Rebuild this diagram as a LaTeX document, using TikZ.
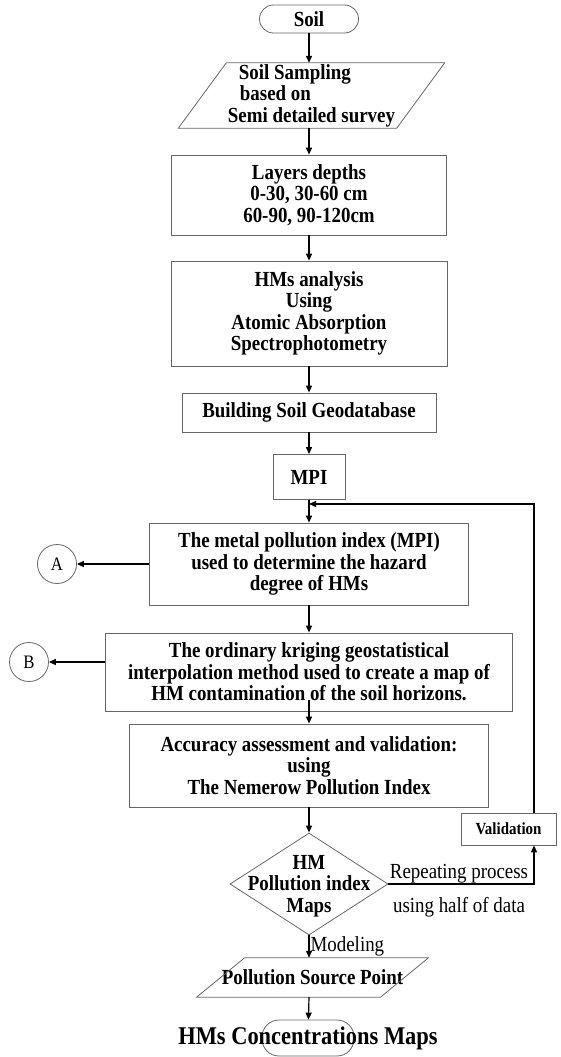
\documentclass[tikz,border=0pt]{standalone}
\usepackage{fontspec}
\setmainfont{Liberation Serif}[FakeStretch=0.88]
\usetikzlibrary{positioning,arrows.meta,shapes.geometric}
\definecolor{edgegray}{gray}{0.4}

\tikzset{
  txt/.style={align=center, inner sep=1pt, font=\fontsize{21.5}{21.5}\selectfont\bfseries},
  box/.style={txt, draw=edgegray, line width=0.8pt},
  term/.style={box, rounded corners=14pt},
  edge/.style={draw=edgegray, line width=0.8pt},
  diam/.style={edge, diamond, inner sep=0pt},
  circ/.style={edge, circle, minimum size=39pt, inner sep=0pt,
    font=\fontsize{19}{19}\selectfont},
  lbl/.style={inner sep=1pt, font=\fontsize{21.5}{21.5}\selectfont},
  arr/.style={-{Triangle[length=7pt,width=6pt]}, line width=1.2pt}
}

\begin{document}
\begin{tikzpicture}[x=1pt,y=-1pt]
\useasboundingbox (0,0) rectangle (561,1057);

% Main column
\node[term, minimum width=99pt, minimum height=28pt] (soil) at (309,19) {Soil};
\node[txt, align=left, minimum width=218pt, minimum height=65pt] (sampling) at (311.5,95.5) {\hspace*{11pt}Soil Sampling\\\hspace*{12pt}based on\\Semi detailed survey};
\draw[edge] ([xshift=24pt]sampling.north west) -- ([xshift=24pt]sampling.north east)
  -- ([xshift=-24pt]sampling.south east) -- ([xshift=-24pt]sampling.south west) -- cycle;
\node[box, minimum width=275pt, minimum height=80pt] (layers) at (309,195) {Layers depths\\0-30, 30-60 cm\\60-90, 90-120cm};
\node[box, minimum width=276pt, minimum height=105pt] (hms) at (309,313.5) {HMs analysis\\Using\\Atomic Absorption\\Spectrophotometry};
\node[box, minimum width=254pt, minimum height=39pt] (geodb) at (309,412.5) {Building Soil Geodatabase};
\node[box, minimum width=72pt, minimum height=45pt] (mpi) at (309,477) {MPI};
\node[box, minimum width=319pt, minimum height=82pt] (mpiuse) at (309,564) {The metal pollution index (MPI)\\used to determine the hazard\\degree of HMs};
\node[box, minimum width=407pt, minimum height=78pt] (kriging) at (309,672) {The ordinary kriging geostatistical\\interpolation method used to create a map of\\HM contamination of the soil horizons.};
\node[box, minimum width=359pt, minimum height=83pt] (accuracy) at (309,765.5) {Accuracy assessment and validation:\\using\\The Nemerow Pollution Index};
\node[diam, minimum width=158pt, minimum height=102pt] (hmmap) at (309,884) {};
\node[txt] (hmmaptxt) at (309,886) {HM\\Pollution index\\Maps};
\node[txt, minimum width=177pt, minimum height=39pt] (source) at (312.5,977.5) {Pollution Source Point};
\draw[edge] ([xshift=24pt]source.north west) -- ([xshift=24pt]source.north east)
  -- ([xshift=-24pt]source.south east) -- ([xshift=-24pt]source.south west) -- cycle;
\node[edge, rounded corners=17pt, minimum width=92pt, minimum height=36pt] (conc) at (308,1038) {};
\node[txt, font=\fontsize{25.5}{25.5}\selectfont\bfseries] (conctxt) at (308,1038) {HMs Concentrations Maps};

% Side nodes
\node[circ] (A) at (57,564) {A};
\node[circ] (B) at (29,662) {B};
\node[box, font=\fontsize{17}{17}\selectfont\bfseries, minimum width=95pt, minimum height=32pt] (valid) at (508.5,829) {Validation};
\node[lbl] (rep) at (459,874) {Repeating process};
\node[lbl] (half) at (459,907) {using half of data};
\coordinate (backx) at (534,829);
\coordinate (back) at (309,504);

% Connectors
\draw[arr] (soil) -- (soil |- sampling.north);
\draw[arr] (soil |- sampling.south) -- (layers);
\draw[arr] (layers) -- (hms);
\draw[arr] (hms) -- (geodb);
\draw[arr] (geodb) -- (mpi);
\draw[arr] (mpi) -- (mpiuse);
\draw[arr] (mpiuse) -- (A);
\draw[arr] (kriging.west |- B) -- (B);
\draw[arr] (mpiuse) -- (kriging);
\draw[arr] ([yshift=11pt]kriging.south) -- (accuracy);
\draw[arr] (accuracy) -- (hmmap);
\draw[arr] (hmmap.east) -| (backx |- valid.south);
\draw[arr] (backx |- valid.north) |- (back);
\draw[arr] (hmmap) -- node[lbl, right] (modl) {Modeling} (soil |- source.north);
\draw[arr] (soil |- source.south) -- (conc);
\end{tikzpicture}
\end{document}
